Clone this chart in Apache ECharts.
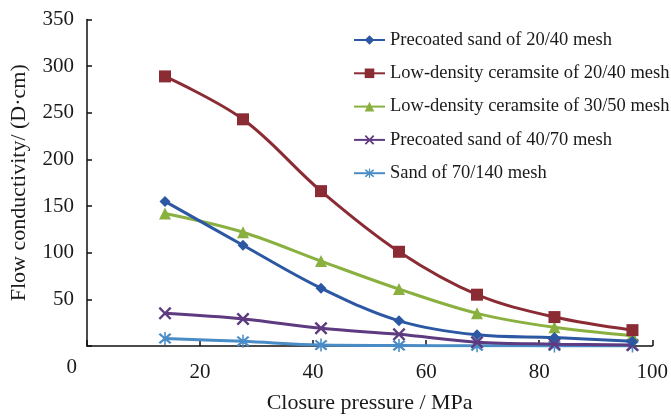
<!DOCTYPE html>
<html>
<head>
<meta charset="utf-8">
<script src="https://cdn.jsdelivr.net/npm/echarts@6/dist/echarts.min.js"></script>
<style>html,body{margin:0;padding:0;background:#fff}#c{width:671px;height:419px}</style>
</head>
<body>
<div id="c"></div>
<script>
var pressure = [13.8, 27.6, 41.4, 55.2, 69.0, 82.7, 96.5];
var seriesNames = [
  'Precoated sand of 20/40 mesh',
  'Low-density ceramsite of 20/40 mesh',
  'Low-density ceramsite of 30/50 mesh',
  'Precoated sand of 40/70 mesh',
  'Sand of 70/140 mesh'
];
var precoated2040 = [155, 108, 62, 27, 12, 9, 5];
var ceramsite2040 = [289, 243, 166, 101, 55, 31, 17];
var ceramsite3050 = [142, 122, 91, 61, 35, 20, 11];
var precoated4070 = [35, 29, 19, 12.5, 4, 2, 1];
var sand70140 = [8, 5, 1, 0.5, 0.2, 0.1, 0];
var xTicks = [20, 40, 60, 80, 100];
var yTicks = [50, 100, 150, 200, 250, 300, 350];

var colors = ['#2B57A3', '#8B2C34', '#8AB040', '#5E3A80', '#4A8CC6'];
var xPath = 'path://M0,1.3L1.3,0L5,3.7L8.7,0L10,1.3L6.3,5L10,8.7L8.7,10L5,6.3L1.3,10L0,8.7L3.7,5Z';
var starPath = 'path://M0,1.3L1.3,0L5,3.7L8.7,0L10,1.3L6.3,5L10,8.7L8.7,10L5,6.3L1.3,10L0,8.7L3.7,5ZM4.4,-1L5.6,-1L5.6,11L4.4,11Z';
var symbols = ['diamond', 'rect', 'triangle', xPath, starPath];
var sizes = [11, 12, 12, 13, 13];
var allData = [precoated2040, ceramsite2040, ceramsite3050, precoated4070, sand70140];

function pairs(arr) { return pressure.map(function (p, i) { return [p, arr[i]]; }); }

var series = allData.map(function (d, i) {
  return {
    name: seriesNames[i],
    type: 'line',
    smooth: 0.35,
    data: pairs(d),
    symbol: symbols[i],
    symbolSize: sizes[i],
    showAllSymbol: true,
    lineStyle: { color: colors[i], width: 3 },
    itemStyle: { color: colors[i] },
    z: 5 - i
  };
});

var font = 'Liberation Serif, Times New Roman, serif';
var chart = echarts.init(document.getElementById('c'), null, { renderer: 'canvas' });
chart.setOption({
  animation: false,
  backgroundColor: '#fff',
  grid: { left: 86.7, right: 14.3, top: 19.5, bottom: 68, containLabel: false },
  legend: {
    orient: 'vertical',
    left: 348,
    top: 25.5,
    itemGap: 14.3,
    itemWidth: 31,
    itemHeight: 12,
    textStyle: { fontFamily: font, fontSize: 18.5, lineHeight: 19, color: '#1a1a1a' },
    data: seriesNames
  },
  xAxis: {
    type: 'value',
    min: 0, max: 100, interval: 20,
    name: 'Closure pressure / MPa',
    nameLocation: 'middle',
    nameGap: 46,
    nameTextStyle: { fontFamily: font, fontSize: 22, color: '#1a1a1a' },
    axisLine: { lineStyle: { color: '#111', width: 1.5 } },
    axisTick: { inside: true, length: 6, lineStyle: { color: '#111', width: 1.5 } },
    axisLabel: {
      fontFamily: font, fontSize: 21, color: '#1a1a1a', margin: 16,
      formatter: function (v) { return xTicks.indexOf(v) >= 0 ? String(v) : ''; }
    },
    splitLine: { show: false }
  },
  yAxis: {
    type: 'value',
    min: 0, max: 350, interval: 50,
    name: 'Flow conductivity/ (D·cm)',
    nameLocation: 'middle',
    nameGap: 57,
    nameTextStyle: { fontFamily: font, fontSize: 22, color: '#1a1a1a' },
    axisLine: { show: true, lineStyle: { color: '#111', width: 1.5 } },
    axisTick: { show: true, inside: true, length: 5, lineStyle: { color: '#111', width: 1.5 } },
    axisLabel: {
      fontFamily: font, fontSize: 21, color: '#1a1a1a', margin: 13,
      formatter: function (v) { return yTicks.indexOf(v) >= 0 ? String(v) : ''; }
    },
    splitLine: { show: false }
  },
  graphic: [{
    type: 'text',
    left: 66.5, top: 356.5,
    style: { text: '0', fontFamily: font, fontSize: 21, fill: '#1a1a1a' }
  }],
  series: series
});
</script>
</body>
</html>
